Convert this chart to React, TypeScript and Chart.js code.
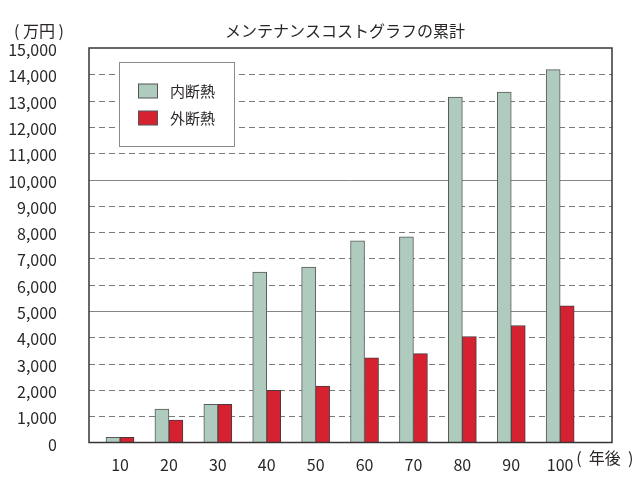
import React, { useEffect, useRef } from 'react';
import { Chart, registerables } from 'chart.js';

Chart.register(...registerables);

const years = [10, 20, 30, 40, 50, 60, 70, 80, 90, 100];
const interior = [200, 1270, 1450, 6480, 6670, 7670, 7820, 13130, 13320, 14180];
const exterior = [200, 850, 1450, 1980, 2150, 3220, 3380, 4030, 4450, 5200];
const seriesLabels = ['内断熱', '外断熱'];
const seriesColors = ['#afcbbd', '#d62131'];
const gridValues = [1000, 2000, 3000, 4000, 5000, 6000, 7000, 8000, 9000, 10000, 11000, 12000, 13000, 14000];
const solidGridValues = [5000, 10000];
const title = 'メンテナンスコストグラフの累計';
const yUnit = '( 万円 )';
const xUnit = '(  年後  )';

const FONT = '"Noto Sans CJK JP", "Noto Sans", sans-serif';
const TEXT = '#2a2626';

const decorPlugin = {
  id: 'decor',
  beforeDatasetsDraw(chart: any) {
    const { ctx, chartArea } = chart;
    const y = chart.scales.y;
    ctx.save();
    gridValues.forEach((v) => {
      const py = Math.round(y.getPixelForValue(v)) + 0.5;
      ctx.beginPath();
      if (solidGridValues.includes(v)) {
        ctx.setLineDash([]);
        ctx.strokeStyle = '#858585';
      } else {
        ctx.setLineDash([6, 4]);
        ctx.strokeStyle = '#7a7a7a';
      }
      ctx.lineWidth = 1;
      ctx.moveTo(chartArea.left, py);
      ctx.lineTo(chartArea.right, py);
      ctx.stroke();
    });
    ctx.restore();
  },
  afterDatasetsDraw(chart: any) {
    const { ctx, chartArea } = chart;
    ctx.save();
    ctx.setLineDash([]);
    ctx.strokeStyle = '#3b3434';
    ctx.lineWidth = 1.5;
    ctx.strokeRect(chartArea.left, chartArea.top, chartArea.right - chartArea.left, chartArea.bottom - chartArea.top);

    const bx = 119.5, by = 62.5, bw = 115, bh = 84;
    ctx.fillStyle = '#ffffff';
    ctx.fillRect(bx, by, bw, bh);
    ctx.strokeStyle = '#8a8a8a';
    ctx.lineWidth = 1;
    ctx.strokeRect(bx, by, bw, bh);
    const rows = [91, 118];
    chart.data.datasets.forEach((ds: any, i: number) => {
      const cy = rows[i];
      ctx.fillStyle = ds.backgroundColor;
      ctx.fillRect(138.5, cy - 7, 19, 14);
      ctx.strokeStyle = '#555555';
      ctx.strokeRect(138.5, cy - 7, 19, 14);
      ctx.fillStyle = TEXT;
      ctx.font = `15px ${FONT}`;
      ctx.textAlign = 'left';
      ctx.textBaseline = 'middle';
      ctx.fillText(ds.label, 170, cy);
    });
    ctx.restore();
  },
  afterDraw(chart: any) {
    const { ctx } = chart;
    const x = chart.scales.x;
    ctx.save();
    ctx.fillStyle = TEXT;
    ctx.textBaseline = 'middle';
    ctx.font = `16px ${FONT}`;
    ctx.textAlign = 'center';
    ctx.fillText(title, 345, 31);
    ctx.font = `16px ${FONT}`;
    ctx.textAlign = 'left';
    ctx.fillText(yUnit, 14, 31);
    const lastX = x.getPixelForValue(years[years.length - 1]);
    ctx.fillText(xUnit, lastX + 16, 458);
    ctx.restore();
  },
};

export default function App() {
  const ref = useRef<HTMLCanvasElement>(null);
  useEffect(() => {
    if (!ref.current) return;
    const chart = new Chart(ref.current, {
      type: 'bar',
      data: {
        datasets: [
          {
            label: seriesLabels[0],
            data: years.map((yr, i) => ({ x: yr, y: interior[i] })),
            backgroundColor: seriesColors[0],
            borderColor: '#5a5a5a',
            borderWidth: 1,
            barThickness: 14,
          },
          {
            label: seriesLabels[1],
            data: years.map((yr, i) => ({ x: yr, y: exterior[i] })),
            backgroundColor: seriesColors[1],
            borderColor: '#4a3a3a',
            borderWidth: 1,
            barThickness: 14,
          },
        ],
      },
      options: {
        responsive: false,
        animation: false,
        layout: { padding: { left: 0, right: 28, top: 48, bottom: 0 } },
        plugins: {
          legend: { display: false },
          title: { display: false },
          tooltip: { enabled: false },
        },
        scales: {
          x: {
            type: 'linear',
            offset: false,
            min: 3.66,
            max: 110.6,
            grid: { display: false, offset: false },
            border: { display: false },
            ticks: {
              color: TEXT,
              font: { family: FONT, size: 16 },
              padding: 5,
              callback: (v: any) => String(v),
            },
            afterBuildTicks: (scale: any) => {
              scale.ticks = years.map((v) => ({ value: v }));
            },
            afterFit: (scale: any) => {
              scale.height = 37.5;
            },
          },
          y: {
            min: 0,
            max: 15000,
            grid: { display: false },
            border: { display: false },
            ticks: {
              stepSize: 1000,
              color: TEXT,
              font: { family: FONT, size: 16 },
              padding: 24,
              labelOffset: 2,
              callback: (v: any) => Number(v).toLocaleString('en-US'),
            },
            afterFit: (scale: any) => {
              scale.width = 89;
            },
          },
        },
      },
      plugins: [decorPlugin],
    } as any);
    return () => chart.destroy();
  }, []);
  return (
    <div style={{ position: 'absolute', left: 0, top: 0, width: 640, height: 480, background: '#fff' }}>
      <canvas ref={ref} width={640} height={480} />
    </div>
  );
}
